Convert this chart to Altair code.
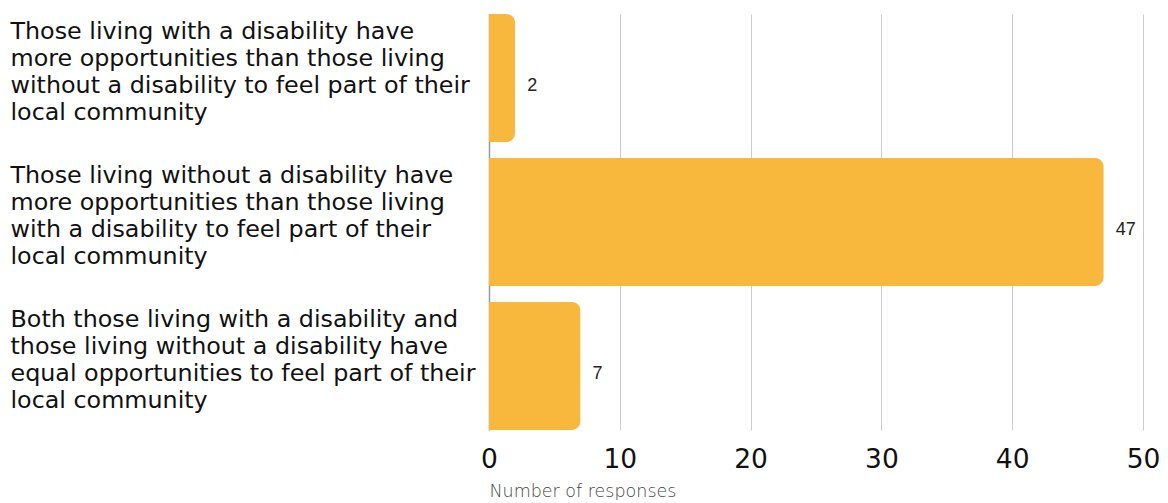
import altair as alt
import pandas as pd

categories = [
    "Those living with a disability have|more opportunities than those living|without a disability to feel part of their|local community",
    "Those living without a disability have|more opportunities than those living|with a disability to feel part of their|local community",
    "Both those living with a disability and|those living without a disability have|equal opportunities to feel part of their|local community",
]
values = [2, 47, 7]

df = pd.DataFrame({"category": categories, "value": values})

FONT = "DejaVu Sans"

base = alt.Chart(df).encode(
    y=alt.Y(
        "category:N",
        sort=None,
        title=None,
        scale=alt.Scale(paddingInner=0.11, paddingOuter=0.0),
        axis=alt.Axis(
            labelExpr="split(datum.label, '|')",
            labelAlign="left",
            labelPadding=479,
            labelLimit=600,
            labelFont=FONT,
            labelFontSize=23.8,
            labelLineHeight=27,
            labelColor="#111111",
            labelOffset=-46,
            ticks=False,
            domain=True,
            domainColor="#999999",
            domainWidth=1.5,
            grid=False,
        ),
    ),
)

bars = base.mark_bar(color="#F8B83E", cornerRadiusEnd=9).encode(
    x=alt.X(
        "value:Q",
        scale=alt.Scale(domain=[0, 50]),
        axis=alt.Axis(
            values=[0, 10, 20, 30, 40, 50],
            title="Number of responses",
            titleAnchor="start",
            titleAlign="left",
            titleFont="DejaVu Sans",
            titleFontSize=17.5,
            titleFontWeight=200,
            titleColor="#444444",
            titlePadding=10,
            labelFont=FONT,
            labelFontSize=26.5,
            labelColor="#111111",
            labelPadding=16,
            labelFlush=False,
            ticks=False,
            domain=False,
            grid=True,
            gridColor="#cccccc",
            gridWidth=1,
        ),
    )
)

text = base.mark_text(
    align="left", baseline="middle", dx=12, dy=8, font="Liberation Sans", fontSize=18, color="#222222"
).encode(x="value:Q", text="value:Q")

chart = (
    alt.layer(bars, text)
    .properties(width=654, height=416, padding={"left": 2, "top": 6, "right": 0, "bottom": 0})
    .configure_view(stroke=None)
)

chart.save("out.html", embed_options={"renderer": "svg", "actions": False})
